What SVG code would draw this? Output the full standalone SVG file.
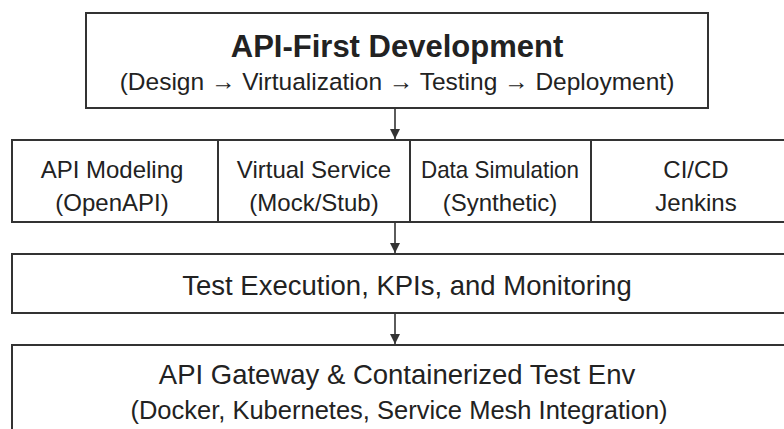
<svg xmlns="http://www.w3.org/2000/svg" width="784" height="429" viewBox="0 0 784 429">
  <style>
    .box { fill: #ffffff; stroke: #333333; stroke-width: 2; }
    .link { stroke: #333333; stroke-width: 1.6; fill: none; }
    text { font-family: "Liberation Sans", Arial, sans-serif; fill: #222222; text-anchor: middle; }
    .title { font-size: 31px; font-weight: bold; }
    .sub { font-size: 24.5px; }
    .cell { font-size: 24px; }
    .main { font-size: 27.5px; }
    .note { font-size: 25.5px; }
  </style>
  <defs>
    <marker id="arrow" viewBox="0 0 10 10" refX="10" refY="5" markerWidth="10" markerHeight="10" markerUnits="userSpaceOnUse" orient="auto">
      <path d="M0,0 L10,5 L0,10 Z" fill="#333333"/>
    </marker>
  </defs>
  <rect width="784" height="429" fill="#ffffff"/>

  <g id="api-first">
    <rect class="box" x="86" y="13" width="622" height="95"/>
    <text class="title" x="397" y="57">API-First Development</text>
    <text class="sub" x="397" y="90">(Design → Virtualization → Testing → Deployment)</text>
  </g>

  <g id="api-modeling">
    <rect class="box" x="12" y="140" width="206" height="82"/>
    <text class="cell" x="112" y="178">API Modeling</text>
    <text class="cell" x="112" y="211">(OpenAPI)</text>
  </g>
  <g id="virtual-service">
    <rect class="box" x="218" y="140" width="192" height="82"/>
    <text class="cell" x="314" y="178">Virtual Service</text>
    <text class="cell" x="314" y="211">(Mock/Stub)</text>
  </g>
  <g id="data-simulation">
    <rect class="box" x="410" y="140" width="181" height="82"/>
    <text class="cell" x="500" y="178" textLength="158" lengthAdjust="spacingAndGlyphs">Data Simulation</text>
    <text class="cell" x="500" y="211">(Synthetic)</text>
  </g>
  <g id="cicd">
    <rect class="box" x="591" y="140" width="210" height="82"/>
    <text class="cell" x="696" y="178">CI/CD</text>
    <text class="cell" x="696" y="211">Jenkins</text>
  </g>

  <g id="test-execution">
    <rect class="box" x="12" y="254" width="790" height="59"/>
    <text class="main" x="407" y="295">Test Execution, KPIs, and Monitoring</text>
  </g>

  <g id="gateway">
    <rect class="box" x="12" y="345" width="790" height="100"/>
    <text class="main" x="397" y="384">API Gateway &amp; Containerized Test Env</text>
    <text class="note" x="399" y="419">(Docker, Kubernetes, Service Mesh Integration)</text>
  </g>

  <g id="connectors">
    <line class="link" x1="395" y1="108" x2="395" y2="139" marker-end="url(#arrow)"/>
    <line class="link" x1="395" y1="222" x2="395" y2="253" marker-end="url(#arrow)"/>
    <line class="link" x1="395" y1="313" x2="395" y2="344" marker-end="url(#arrow)"/>
  </g>
</svg>
